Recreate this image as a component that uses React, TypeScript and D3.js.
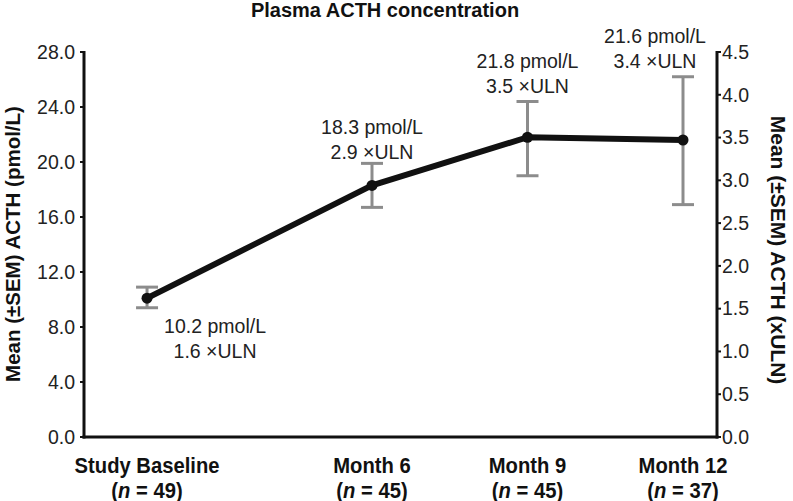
import React from "react";
import * as d3 from "d3";

const categories = ["Study Baseline", "Month 6", "Month 9", "Month 12"];
const nLabels = ["49", "45", "45", "37"];
const plotMonths = [1.66, 6, 9, 12];
const meanPmol = [10.1, 18.3, 21.8, 21.6];
const semLow = [9.4, 16.7, 19.0, 16.9];
const semHigh = [10.9, 19.9, 24.4, 26.2];
const pmolLabels = ["10.2 pmol/L", "18.3 pmol/L", "21.8 pmol/L", "21.6 pmol/L"];
const ulnLabels = ["1.6 \u00d7ULN", "2.9 \u00d7ULN", "3.5 \u00d7ULN", "3.4 \u00d7ULN"];
const leftTicks = [0, 4, 8, 12, 16, 20, 24, 28];
const rightTicks = [0, 0.5, 1, 1.5, 2, 2.5, 3, 3.5, 4, 4.5];

const W = 793;
const H = 501;
const left = 84;
const right = 717;
const top = 52;
const bottom = 437;

export default function App() {
  const x = d3.scaleLinear().domain([6, 12]).range([372, 683]);
  const y = d3.scaleLinear().domain([0, 28]).range([bottom, top]);
  const y2 = d3.scaleLinear().domain([0, 4.5]).range([bottom, top]);
  const line = d3
    .line<number>()
    .x((_, i) => x(plotMonths[i]))
    .y((d) => y(d));
  const font = "'Liberation Sans', Arial, sans-serif";
  const labelOffsets = [
    { dx: 68, dy: 35 },
    { dx: 0, dy: -51 },
    { dx: 0, dy: -69 },
    { dx: -28, dy: -97 },
  ];
  return (
    <svg width={W} height={H} style={{ position: "absolute", left: 0, top: 0, background: "#fff" }} fontFamily={font}>
      <text x={385} y={17} textAnchor="middle" fontWeight="bold" fontSize={20} fill="#111">
        Plasma ACTH concentration
      </text>
      {categories.map((c, i) => {
        const cx = x(plotMonths[i]);
        return (
          <g key={"eb" + c} stroke="#8c8c8c" strokeWidth={3}>
            <line x1={cx} x2={cx} y1={y(semLow[i])} y2={y(semHigh[i])} />
            <line x1={cx - 11} x2={cx + 11} y1={y(semLow[i])} y2={y(semLow[i])} />
            <line x1={cx - 11} x2={cx + 11} y1={y(semHigh[i])} y2={y(semHigh[i])} />
          </g>
        );
      })}
      <path d={line(meanPmol) || ""} fill="none" stroke="#111" strokeWidth={6} strokeLinejoin="round" />
      {meanPmol.map((v, i) => (
        <circle key={"pt" + i} cx={x(plotMonths[i])} cy={y(v)} r={5.5} fill="#111" />
      ))}
      {categories.map((c, i) => {
        const cx = x(plotMonths[i]) + labelOffsets[i].dx;
        const cy = y(meanPmol[i]) + labelOffsets[i].dy;
        return (
          <g key={"lb" + c} fontSize={19.5} fill="#222" textAnchor="middle">
            <text x={cx} y={cy}>{pmolLabels[i]}</text>
            <text x={cx} y={cy + 25}>{ulnLabels[i]}</text>
          </g>
        );
      })}
      <line x1={left} x2={left} y1={top - 1} y2={bottom + 1.5} stroke="#111" strokeWidth={3} />
      <line x1={right} x2={right} y1={top - 1} y2={bottom + 1.5} stroke="#111" strokeWidth={3} />
      <line x1={left - 1.5} x2={right + 1.5} y1={bottom} y2={bottom} stroke="#111" strokeWidth={3} />
      {leftTicks.map((t) => (
        <g key={"lt" + t}>
          <line x1={left - 4} x2={left} y1={y(t)} y2={y(t)} stroke="#111" strokeWidth={2} />
          <text x={left - 9} y={y(t)} dy="0.35em" textAnchor="end" fontSize={19.5} fill="#222">
            {t.toFixed(1)}
          </text>
        </g>
      ))}
      {rightTicks.map((t) => (
        <g key={"rt" + t}>
          <line x1={right} x2={right + 4} y1={y2(t)} y2={y2(t)} stroke="#111" strokeWidth={2} />
          <text x={right + 5} y={y2(t)} dy="0.35em" textAnchor="start" fontSize={19.5} fill="#222">
            {t.toFixed(1)}
          </text>
        </g>
      ))}
      <text
        transform={`translate(20, 244) rotate(-90)`}
        textAnchor="middle"
        fontWeight="bold"
        fontSize={20.5}
        fill="#111"
      >
        Mean (±SEM) ACTH (pmol/L)
      </text>
      <text
        transform={`translate(771, 250) rotate(90)`}
        textAnchor="middle"
        fontWeight="bold"
        fontSize={21}
        fill="#111"
      >
        Mean (±SEM) ACTH (xULN)
      </text>
      {categories.map((c, i) => {
        const cx = x(plotMonths[i]);
        return (
          <g key={"xl" + c} transform={`translate(${cx},0) scale(0.92,1)`} fontWeight="bold" fontSize={22} fill="#111" textAnchor="middle">
            <text x={0} y={473}>{c}</text>
            <text x={0} y={498}>
              (<tspan fontStyle="italic">n</tspan> = {nLabels[i]})
            </text>
          </g>
        );
      })}
    </svg>
  );
}
